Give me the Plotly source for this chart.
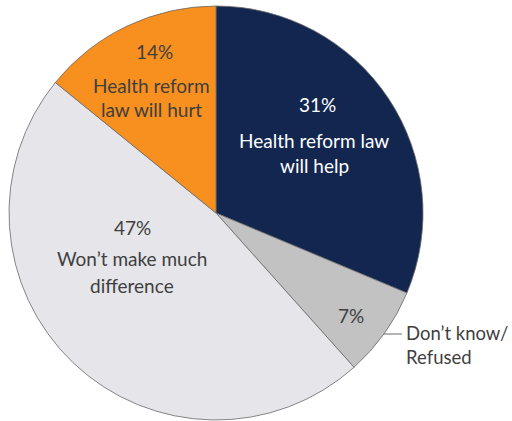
import plotly.graph_objects as go

# Survey shares, clockwise from 12 o'clock
categories = ["Health reform law will help", "Don't know/Refused",
              "Won't make much difference", "Health reform law will hurt"]
values = [31, 7, 47, 14]
colors = ["#13264F", "#C2C2C2", "#E5E5EA", "#F7901E"]

fig = go.Figure(go.Pie(
    labels=categories,
    values=values,
    sort=False,
    direction="clockwise",
    rotation=0,
    marker=dict(colors=colors, line=dict(color="#6A6A6A", width=0.8)),
    textinfo="none",
    hoverinfo="label+percent",
    showlegend=False,
    domain=dict(x=[9 / 512, 423 / 512], y=[1 / 421, 415 / 421]),
))

FONT = "Lato, Open Sans, sans-serif"
dark = "#3F3F3F"
white = "#FFFFFF"


def label(x, y, text, color, size=19, xanchor="center"):
    fig.add_annotation(x=x / 512, y=1 - y / 421, xref="paper", yref="paper",
                       text=text, showarrow=False, xanchor=xanchor,
                       yanchor="middle",
                       font=dict(family=FONT, size=size, color=color))


pct = {c: f"{v}%" for c, v in zip(categories, values)}

# Helps
label(317, 105, pct[categories[0]], white)
label(314, 140, "Health reform law", white)
label(314, 165, "will help", white)
# Hurts
label(154, 52, pct[categories[3]], dark)
label(151, 85, "Health reform", dark)
label(151, 110, "law will hurt", dark)
# No difference
label(132, 227, pct[categories[2]], dark)
label(132, 258, "Won\u2019t make much", dark)
label(132, 285, "difference", dark)
# Don't know
label(351, 315, pct[categories[1]], dark)
label(404, 333, "Don\u2019t know/", dark, size=18.5, xanchor="left")
label(404, 357, "Refused", dark, size=18.5, xanchor="left")

# leader line from the small slice to its label
fig.add_shape(type="line", xref="paper", yref="paper",
              x0=384 / 512, x1=402 / 512, y0=1 - 334 / 421, y1=1 - 334 / 421,
              line=dict(color="#6A6A6A", width=1))

fig.update_layout(width=512, height=421, margin=dict(l=0, r=0, t=0, b=0),
                  paper_bgcolor="white", plot_bgcolor="white")
fig.write_html("out.html")
